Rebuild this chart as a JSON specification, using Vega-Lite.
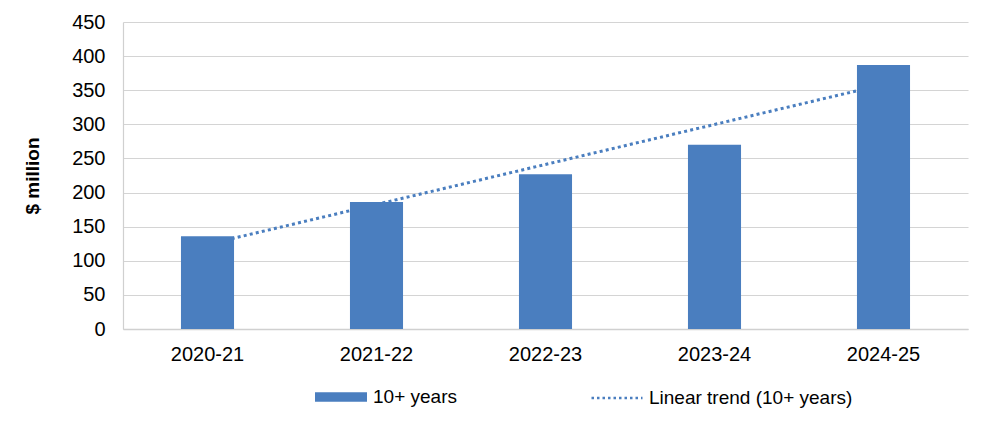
{
  "$schema": "https://vega.github.io/schema/vega-lite/v6.json",
  "width": 845,
  "height": 307,
  "autosize": "none",
  "padding": {"left": 123, "top": 22, "right": 24, "bottom": 93},
  "background": "white",
  "config": {
    "view": {"stroke": null},
    "font": "Liberation Sans",
    "axis": {"labelColor": "#000000", "titleColor": "#000000", "labelFont": "Liberation Sans", "titleFont": "Liberation Sans"},
    "legend": {"labelFont": "Liberation Sans", "labelColor": "#000000", "padding": 0, "labelLimit": 400}
  },
  "datasets": {
    "bars": [
      {"year": "2020-21", "value": 136, "series": "10+ years"},
      {"year": "2021-22", "value": 186, "series": "10+ years"},
      {"year": "2022-23", "value": 227, "series": "10+ years"},
      {"year": "2023-24", "value": 270, "series": "10+ years"},
      {"year": "2024-25", "value": 387, "series": "10+ years"}
    ],
    "trend": [
      {"year": "2020-21", "trend": 124.0, "series": "Linear trend (10+ years)"},
      {"year": "2021-22", "trend": 182.6, "series": "Linear trend (10+ years)"},
      {"year": "2022-23", "trend": 241.2, "series": "Linear trend (10+ years)"},
      {"year": "2023-24", "trend": 299.8, "series": "Linear trend (10+ years)"},
      {"year": "2024-25", "trend": 358.4, "series": "Linear trend (10+ years)"}
    ]
  },
  "layer": [
    {
      "data": {"name": "trend"},
      "mark": {"type": "line", "strokeWidth": 3, "strokeDash": [3, 3.2], "strokeCap": "butt"},
      "encoding": {
        "x": {
          "field": "year", "type": "ordinal", "sort": null,
          "scale": {"paddingInner": 0.686, "paddingOuter": 0.343},
          "axis": {"title": null, "labelAngle": 0, "labelFontSize": 20, "labelPadding": 15, "ticks": false, "domainColor": "#D0D0D0", "domainWidth": 1.5, "grid": false}
        },
        "y": {
          "field": "trend", "type": "quantitative",
          "scale": {"domain": [0, 450]},
          "axis": {"title": "$ million", "titleFontSize": 19, "titleFontWeight": "bold", "titlePadding": 29, "values": [0, 50, 100, 150, 200, 250, 300, 350, 400, 450], "labelOverlap": false, "labelFontSize": 20, "labelPadding": 18, "ticks": false, "grid": true, "gridColor": "#D4D4D4", "gridWidth": 1.2, "domainColor": "#D0D0D0", "domainWidth": 1.2}
        },
        "stroke": {
          "field": "series", "type": "nominal",
          "scale": {"range": ["#4A7EBF"]},
          "legend": {
            "title": null, "orient": "none", "legendX": 467, "legendY": 349,
            "symbolType": "stroke", "symbolSize": 2601, "symbolStrokeWidth": 2.5,
            "symbolDash": [2.5, 3], "labelFontSize": 19, "labelOffset": 5
          }
        }
      }
    },
    {
      "data": {"name": "bars"},
      "mark": {"type": "bar"},
      "encoding": {
        "x": {
          "field": "year", "type": "ordinal", "sort": null,
          "scale": {"paddingInner": 0.686, "paddingOuter": 0.343},
          "axis": {"title": null, "labelAngle": 0, "labelFontSize": 20, "labelPadding": 15, "ticks": false, "domainColor": "#D0D0D0", "domainWidth": 1.5, "grid": false}
        },
        "y": {
          "field": "value", "type": "quantitative",
          "scale": {"domain": [0, 450]},
          "axis": {"title": "$ million", "titleFontSize": 19, "titleFontWeight": "bold", "titlePadding": 29, "values": [0, 50, 100, 150, 200, 250, 300, 350, 400, 450], "labelOverlap": false, "labelFontSize": 20, "labelPadding": 18, "ticks": false, "grid": true, "gridColor": "#D4D4D4", "gridWidth": 1.2, "domainColor": "#D0D0D0", "domainWidth": 1.2}
        },
        "fill": {
          "field": "series", "type": "nominal",
          "scale": {"range": ["#4A7EBF"]},
          "legend": {
            "title": null, "orient": "none", "legendX": 192, "legendY": 349,
            "symbolType": "M-1,-0.18H1V0.18H-1Z", "symbolSize": 2704, "symbolStrokeWidth": 0,
            "labelFontSize": 19, "labelOffset": 6
          }
        }
      }
    }
  ]
}
